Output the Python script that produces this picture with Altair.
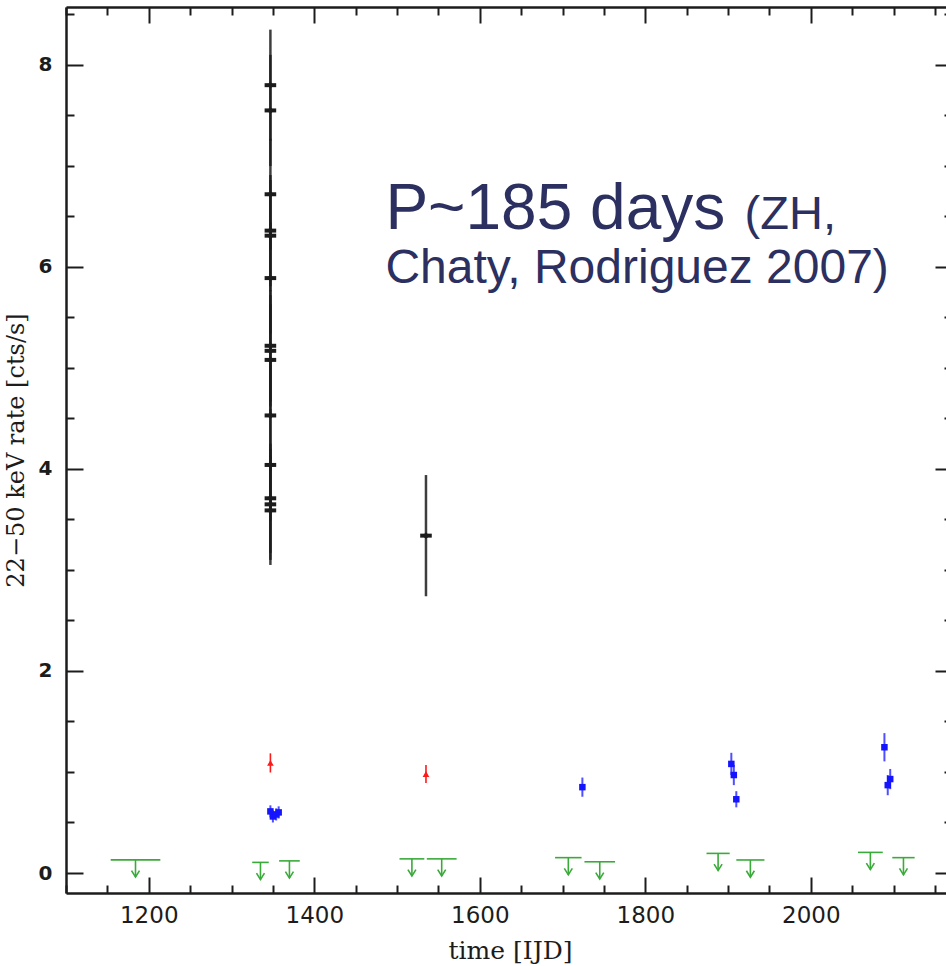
import altair as alt
import pandas as pd

# ---------------- data ----------------
# ISGRI 22-50 keV rates (black: flaring points)
black_t = [1347, 1347, 1347, 1347, 1347, 1347, 1347, 1347, 1347, 1347, 1347, 1347, 1347, 1347, 1535]
black_rate = [7.80, 7.55, 6.72, 6.36, 6.31, 5.89, 5.22, 5.17, 5.08, 4.53, 4.04, 3.71, 3.65, 3.59, 3.34]
black_err = [0.55, 0.55, 0.55, 0.55, 0.55, 0.55, 0.55, 0.55, 0.55, 0.55, 0.55, 0.54, 0.55, 0.54, 0.60]

# red points
red_t = [1347, 1535]
red_rate = [1.09, 0.98]
red_err = [0.095, 0.09]

# blue points
blue_t = [1347, 1350, 1354, 1357, 1724, 1904, 1907, 1910, 2089, 2093, 2096]
blue_rate = [0.61, 0.56, 0.58, 0.60, 0.85, 1.08, 0.97, 0.73, 1.245, 0.87, 0.93]
blue_err = [0.06, 0.06, 0.06, 0.06, 0.095, 0.11, 0.10, 0.08, 0.14, 0.10, 0.10]

# green upper limits (centre time, half-width of the time window, level)
green_t = [1184, 1335, 1370, 1518, 1554, 1707, 1745, 1888, 1927, 2072, 2112]
green_half = [30, 10, 12.5, 15, 18, 16, 18.5, 14, 17, 15, 13.5]
green_level = [0.13, 0.105, 0.12, 0.14, 0.14, 0.152, 0.111, 0.194, 0.129, 0.204, 0.152]

# axis ticks
x_major = [1200, 1400, 1600, 1800, 2000]
x_minor = [v for v in range(1100, 2200, 50) if v % 200 != 0]
y_major = [0, 2, 4, 6, 8]
y_minor = [v / 2 for v in range(0, 18) if v % 4 != 0]

# annotation text
annot_line1 = "P~185 days"
annot_line1b = "(ZH,"
annot_line2 = "Chaty, Rodriguez 2007)"
annot_t = [1486, 1920, 1486]
annot_rate = [6.376, 6.376, 5.84]

# ---------------- chart ----------------
xs = alt.Scale(domain=[1100, 2163.4], nice=False, zero=False)
ys = alt.Scale(domain=[-0.198, 8.574], nice=False, zero=False)

INK = "#1c1c1c"
GREEN = "#3aaa3a"
BLUE = "#1414ff"
RED = "#ff1a1a"
NAVY = "#2b3060"

black_df = pd.DataFrame({"t": black_t, "rate": black_rate, "err": black_err})
red_df = pd.DataFrame({"t": red_t, "rate": red_rate, "err": red_err})
blue_df = pd.DataFrame({"t": blue_t, "rate": blue_rate, "err": blue_err})
green_df = pd.DataFrame({"t": green_t, "half": green_half, "level": green_level})


def X(field):
    return alt.X(field, type="quantitative", scale=xs, axis=None)


def Y(field):
    return alt.Y(field, type="quantitative", scale=ys, axis=None)


def errlayers(df, color, bar_w, shape, size, cross_half=None, cross_w=3, opacity=1.0):
    base = alt.Chart(df).transform_calculate(
        lo="datum.rate - datum.err", hi="datum.rate + datum.err"
    )
    layers = [
        base.mark_rule(color=color, strokeWidth=bar_w, opacity=opacity).encode(
            x=X("t"), y=Y("lo"), y2="hi:Q"
        )
    ]
    if cross_half is not None:
        layers.append(
            base.transform_calculate(
                tl=f"datum.t - {cross_half}", tr=f"datum.t + {cross_half}"
            ).mark_rule(color=color, strokeWidth=cross_w).encode(
                x=X("tl"), x2="tr:Q", y=Y("rate")
            )
        )
    layers.append(
        base.mark_point(shape=shape, filled=True, size=size, color=color, opacity=1).encode(
            x=X("t"), y=Y("rate")
        )
    )
    return layers


black_layers = errlayers(black_df, INK, 2.5, "diamond", 45, cross_half=7, cross_w=4, opacity=0.85)
red_layers = errlayers(red_df, RED, 1.6, "triangle-up", 45)
blue_layers = errlayers(blue_df, BLUE, 2, "square", 42, opacity=0.75)

gbase = alt.Chart(green_df).transform_calculate(
    lo="datum.t - datum.half", hi="datum.t + datum.half", tip="datum.level - 0.17"
)
green_h = gbase.mark_rule(color=GREEN, strokeWidth=1.6).encode(x=X("lo"), x2="hi:Q", y=Y("level"))
green_v = gbase.mark_rule(color=GREEN, strokeWidth=1.6).encode(x=X("t"), y=Y("level"), y2="tip:Q")
green_head = gbase.mark_point(
    shape="M -1 -1.6 L 0 0 L 1 -1.6", filled=False, size=64, color=GREEN, strokeWidth=1.6, opacity=1
).encode(x=X("t"), y=Y("tip"))

# ---------------- axes (frame with inward ticks) ----------------
dom = dict(domainColor=INK, domainWidth=2.5)


def axis_layer(xaxis, yaxis):
    return alt.Chart(black_df).mark_point(opacity=0).encode(
        x=alt.X("t", type="quantitative", scale=xs, axis=xaxis),
        y=alt.Y("rate", type="quantitative", scale=ys, axis=yaxis),
    )


def tick_axis(orient, vals, size, offset=0, domain=False):
    return alt.Axis(
        orient=orient, values=vals, labels=False, ticks=True,
        tickSize={"expr": str(-size)}, tickWidth=2, tickColor=INK,
        grid=False, domain=domain, title=None, offset=offset, **dom,
    )


x_lab = alt.Axis(
    orient="bottom", values=x_major, ticks=False, grid=False, domain=True, **dom,
    format="d",
    labelFont="DejaVu Sans", labelFontSize=23, labelColor=INK, labelPadding=11,
    labelFlush=False, labelOverlap=False,
    title="time [IJD]", titleFont="DejaVu Serif", titleFontSize=25,
    titleFontWeight="normal", titleColor=INK, titleX=444, titleY=65,
    titleAlign="center", titleBaseline="alphabetic",
)
y_lab = alt.Axis(
    orient="left", values=y_major, ticks=False, grid=False, domain=True, **dom,
    format="d",
    labelFont="DejaVu Sans", labelFontWeight="bold", labelFontSize=20,
    labelColor=INK, labelPadding=14, labelFlush=False, labelOverlap=False,
    title="22−50 keV rate [cts/s]", titleFont="DejaVu Serif", titleFontSize=24,
    titleFontWeight="normal", titleColor=INK, titleAngle=270,
    titleX=-43, titleY=443, titleAlign="center", titleBaseline="alphabetic",
)

ax1 = axis_layer(x_lab, y_lab)
ax2 = axis_layer(tick_axis("bottom", x_major, 16), tick_axis("left", y_major, 17))
ax3 = axis_layer(tick_axis("top", x_major, 16, domain=True), tick_axis("right", y_major, 17, offset=6))
ax4 = axis_layer(tick_axis("bottom", x_minor, 8), tick_axis("left", y_minor, 8))
ax5 = axis_layer(tick_axis("top", x_minor, 8), tick_axis("right", y_minor, 8, offset=6))

# ---------------- annotation ----------------
def text_layer(text, t, r, size):
    df = pd.DataFrame({"t": [t], "rate": [r], "label": [text]})
    return alt.Chart(df).mark_text(
        align="left", baseline="alphabetic", font="Liberation Sans",
        fontSize=size, color=NAVY,
    ).encode(x=X("t"), y=Y("rate"), text="label:N")


txt1 = text_layer(annot_line1, annot_t[0], annot_rate[0], 64)
txt1b = text_layer(annot_line1b, annot_t[1], annot_rate[1], 47)
txt2 = text_layer(annot_line2, annot_t[2], annot_rate[2], 48)

chart = alt.layer(
    green_h, green_v, green_head,
    *blue_layers, *red_layers, *black_layers,
    ax1, ax2, ax3, ax4, ax5,
    txt1, txt1b, txt2,
).resolve_axis(x="independent", y="independent").properties(
    width=880, height=886,
    padding={"left": 66, "top": 7, "right": 0, "bottom": 73},
    autosize=alt.AutoSizeParams(type="none"),
    background="white",
).configure_view(strokeWidth=0)

chart.save("out.html", embed_options={"renderer": "svg", "actions": False})
